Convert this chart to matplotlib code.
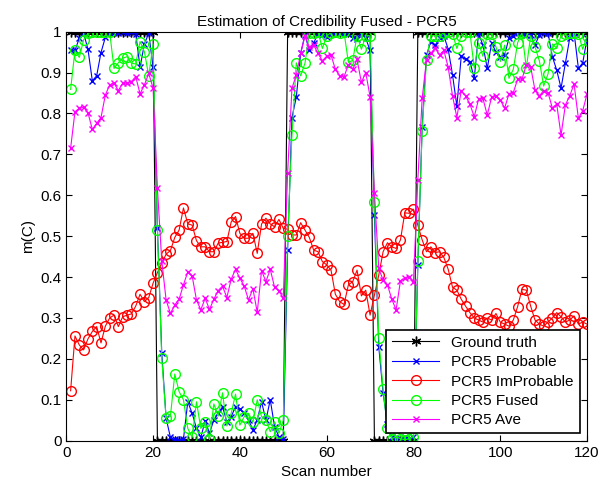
import numpy as np
import matplotlib
matplotlib.use('Agg')
import matplotlib.pyplot as plt

plt.rcParams['font.family'] = ['Liberation Sans', 'DejaVu Sans']
plt.rcParams['font.size'] = 11

scan = np.arange(1, 121)

ground_truth = [1] * 20 + [0] * 30 + [1] * 20 + [0] * 10 + [1] * 40

probable = [
    0.954, 0.954, 0.984, 0.996, 0.957, 0.880, 0.892, 0.949, 0.986, 0.998,
    0.999, 0.998, 0.999, 0.998, 0.999, 0.995, 0.913, 0.970, 0.996, 0.913,
    0.519, 0.215, 0.055, 0.008, 0.003, 0.002, 0.004, 0.095, 0.067, 0.030,
    0.008, 0.049, 0.018, 0.051, 0.067, 0.083, 0.046, 0.059, 0.083, 0.077,
    0.067, 0.051, 0.026, 0.051, 0.095, 0.050, 0.100, 0.034, 0.010, 0.003,
    0.466, 0.790, 0.840, 0.947, 0.992, 0.954, 0.972, 0.996, 0.992, 0.986,
    0.995, 0.998, 0.999, 0.997, 0.995, 0.984, 0.983, 0.997, 0.984, 0.954,
    0.552, 0.230, 0.117, 0.040, 0.010, 0.005, 0.003, 0.008, 0.004, 0.010,
    0.430, 0.768, 0.943, 0.976, 0.967, 0.984, 0.990, 0.957, 0.894, 0.818,
    0.940, 0.932, 0.927, 0.886, 0.996, 0.967, 0.910, 0.972, 0.951, 0.939,
    0.943, 0.984, 0.990, 0.998, 0.998, 0.992, 0.993, 0.967, 0.992, 0.998,
    0.997, 0.939, 0.906, 0.862, 0.923, 0.984, 0.998, 0.910, 0.924, 0.984,
]

improbable = [
    0.122, 0.256, 0.234, 0.222, 0.249, 0.267, 0.279, 0.239, 0.280, 0.300,
    0.307, 0.279, 0.303, 0.307, 0.310, 0.329, 0.358, 0.340, 0.350, 0.385,
    0.411, 0.434, 0.456, 0.465, 0.497, 0.515, 0.569, 0.530, 0.527, 0.489,
    0.474, 0.474, 0.462, 0.462, 0.483, 0.485, 0.487, 0.535, 0.548, 0.507,
    0.495, 0.495, 0.507, 0.458, 0.530, 0.544, 0.530, 0.523, 0.541, 0.519,
    0.517, 0.503, 0.503, 0.533, 0.515, 0.497, 0.466, 0.462, 0.438, 0.430,
    0.417, 0.358, 0.340, 0.333, 0.381, 0.389, 0.417, 0.354, 0.368, 0.307,
    0.356, 0.405, 0.462, 0.484, 0.474, 0.470, 0.491, 0.557, 0.556, 0.566,
    0.527, 0.491, 0.462, 0.474, 0.460, 0.462, 0.448, 0.419, 0.375, 0.368,
    0.346, 0.329, 0.313, 0.300, 0.295, 0.290, 0.300, 0.295, 0.311, 0.290,
    0.285, 0.280, 0.295, 0.328, 0.370, 0.368, 0.329, 0.295, 0.285, 0.280,
    0.290, 0.300, 0.313, 0.303, 0.290, 0.295, 0.305, 0.285, 0.290, 0.285,
]

fused = [
    0.859, 0.954, 0.937, 0.980, 0.996, 0.999, 1.000, 0.999, 1.000, 0.999,
    0.910, 0.924, 0.935, 0.939, 0.923, 0.921, 0.976, 0.951, 0.892, 0.970,
    0.515, 0.201, 0.055, 0.060, 0.163, 0.120, 0.100, 0.030, 0.008, 0.095,
    0.030, 0.046, 0.003, 0.090, 0.060, 0.117, 0.036, 0.067, 0.114, 0.038,
    0.059, 0.067, 0.045, 0.100, 0.059, 0.050, 0.022, 0.046, 0.018, 0.050,
    0.500, 0.747, 0.924, 0.892, 0.923, 0.996, 0.998, 1.000, 0.959, 0.990,
    0.998, 0.999, 0.998, 0.999, 0.925, 0.930, 0.990, 0.957, 0.990, 0.990,
    0.584, 0.250, 0.126, 0.030, 0.005, 0.010, 0.005, 0.002, 0.005, 0.010,
    0.440, 0.758, 0.931, 0.990, 0.990, 0.990, 0.998, 1.000, 0.995, 0.959,
    0.990, 0.999, 0.999, 0.911, 0.972, 0.940, 0.994, 0.995, 0.963, 0.927,
    0.967, 0.886, 0.908, 0.973, 0.998, 0.911, 0.990, 0.963, 0.929, 0.867,
    0.897, 0.970, 0.959, 0.990, 0.995, 0.998, 0.998, 0.995, 0.957, 0.990,
]

average = [
    0.715, 0.804, 0.813, 0.815, 0.802, 0.761, 0.776, 0.790, 0.845, 0.870,
    0.874, 0.856, 0.874, 0.874, 0.878, 0.890, 0.848, 0.870, 0.898, 0.862,
    0.617, 0.440, 0.344, 0.311, 0.332, 0.346, 0.381, 0.413, 0.403, 0.344,
    0.320, 0.348, 0.321, 0.346, 0.367, 0.378, 0.350, 0.395, 0.419, 0.397,
    0.378, 0.344, 0.372, 0.314, 0.416, 0.389, 0.419, 0.375, 0.367, 0.348,
    0.655, 0.862, 0.894, 0.947, 0.990, 0.962, 0.967, 0.947, 0.929, 0.940,
    0.943, 0.908, 0.892, 0.890, 0.919, 0.908, 0.932, 0.876, 0.900, 0.841,
    0.606, 0.421, 0.393, 0.381, 0.346, 0.320, 0.391, 0.397, 0.401, 0.389,
    0.637, 0.837, 0.931, 0.947, 0.959, 0.943, 0.954, 0.913, 0.843, 0.790,
    0.856, 0.843, 0.823, 0.792, 0.835, 0.837, 0.796, 0.840, 0.843, 0.833,
    0.813, 0.848, 0.851, 0.884, 0.884, 0.919, 0.914, 0.857, 0.843, 0.856,
    0.851, 0.813, 0.823, 0.747, 0.821, 0.843, 0.872, 0.788, 0.807, 0.848,
]

fig = plt.figure(figsize=(6.08, 4.83), dpi=100)
ax = fig.add_axes([0.109, 0.0876, 0.8566, 0.8468])

lw = 0.8
ax.plot(scan, ground_truth, color='black', marker=(6, 2, 0), markersize=7, lw=lw, label='Ground truth')
ax.plot(scan, probable, color='blue', marker='x', markersize=4, lw=lw, label='PCR5 Probable')
ax.plot(scan, improbable, color='red', marker='o', markersize=7, mfc='none', lw=lw, label='PCR5 ImProbable')
ax.plot(scan, fused, color='#00ff00', marker='o', markersize=7, mfc='none', lw=lw, label='PCR5 Fused')
ax.plot(scan, average, color='magenta', marker='x', markersize=4, lw=lw, label='PCR5 Ave')

ax.set_xlim(0, 120)
ax.set_ylim(0, 1)
ax.set_xticks(range(0, 121, 20))
yt = np.arange(0, 1.01, 0.1)
ax.set_yticks(yt)
ax.set_yticklabels(['0'] + ['%.1f' % v for v in yt[1:-1]] + ['1'])
ax.tick_params(direction='in', top=True, right=True, length=4)

ax.set_title('Estimation of Credibility Fused - PCR5', fontsize=11, pad=4)
ax.set_xlabel('Scan number')
ax.set_ylabel('m(C)')

leg = ax.legend(loc='lower right', bbox_to_anchor=(0.9866, 0.018), borderaxespad=0,
                fancybox=False, framealpha=1, edgecolor='black', handlelength=3.1,
                labelspacing=0.35, borderpad=0.4)
leg.get_frame().set_linewidth(1.2)

fig.savefig('out.png', dpi=100)
